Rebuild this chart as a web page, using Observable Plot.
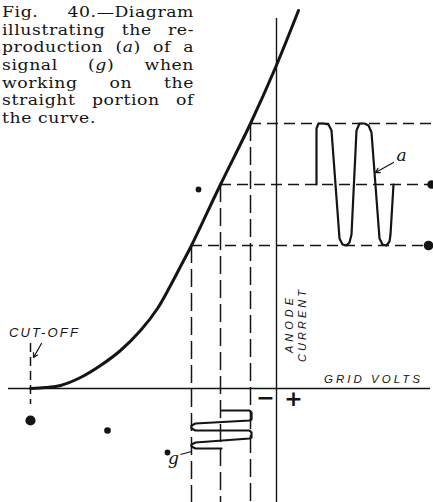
<!DOCTYPE html>
<html>
<head>
<meta charset="utf-8">
<script src="https://cdn.jsdelivr.net/npm/d3@7"></script>
<script src="https://cdn.jsdelivr.net/npm/@observablehq/plot@0.6"></script>
<style>
  html, body { margin: 0; padding: 0; background: #fff; }
  #wrap { position: relative; width: 433px; height: 502px; overflow: hidden; }
  #wrap svg { position: absolute; left: 0; top: 0; }
  #cap { position: absolute; left: 2px; top: 4px; width: 167px; transform: scaleX(1.15); transform-origin: 0 0;
         font-family: "DejaVu Serif", serif; font-size: 15px; letter-spacing: 0.5px; line-height: 17.65px; color: #141414; }
  #cap .j { text-align: justify; text-align-last: justify; }
  #cap .l { text-align: left; }
</style>
</head>
<body>
<div id="wrap"><div id="cap"></div></div>
<script>
// ---- caption ----
const captionLines = [
  "Fig. 40.—Diagram",
  "illustrating the re-",
  "production (<i>a</i>) of a",
  "signal (<i>g</i>) when",
  "working on the",
  "straight portion of",
  "the curve."
];

// ---- characteristic curve: grid volts vs anode current (diagram units) ----
const curveVolts   = [-24.6, -23.1, -21.6, -19.6, -17.6, -15.6, -13.6, -11.9, -10.6, -9.6, -8.5, -5.6, -2.6, -0.1, 2.2];
const curveCurrent = [0, 0.1, 0.3, 1.1, 2.3, 3.8, 5.8, 8.0, 10.3, 12.2, 14.3, 20.4, 26.5, 32.1, 37.8];

// working points (negative peak, bias, positive peak)
const workVolts   = [-8.5, -5.6, -2.6];
const workCurrent = [14.3, 20.4, 26.5];

// output waveform (a): time (to the right) vs anode current
const outTime    = [4.0, 4.0, 4.2, 4.7, 5.2, 5.5, 6.3, 6.6, 7.0, 7.3, 7.5, 8.0, 8.3, 8.8, 9.2, 9.5, 10.3, 10.6, 11.0, 11.3, 11.4, 11.7];
const outCurrent = [20.4, 26.0, 26.5, 26.5, 26.4, 25.8, 15.0, 14.4, 14.3, 14.6, 15.4, 25.8, 26.5, 26.5, 26.3, 25.6, 15.0, 14.4, 14.3, 14.7, 15.4, 20.4];

// input signal (g): grid volts vs time (downwards)
const sigVolts = [-5.5, -2.7, -2.5, -2.5, -2.7, -8.1, -8.5, -8.5, -8.1, -2.7, -2.5, -2.5, -2.7, -8.1, -8.5, -8.5, -8.1, -5.5];
const sigTime  = [-2.2, -2.2, -2.4, -3.1, -3.2, -3.5, -3.7, -4.0, -4.2, -4.2, -4.4, -4.9, -5.0, -5.4, -5.6, -5.8, -6.0, -6.0];

const cutOffVolts = -24.6;
const xDomain = [-27.6, 15.7];
const yDomain = [-11.4, 38.8];

const axisLabels = [
  {x: -23.2, y: 5.6, text: "CUT-OFF", rotate: 0, ls: 2.2, size: 13},
  {x: 9.7, y: 0.9, text: "GRID VOLTS", rotate: 0, ls: 3, size: 11.5},
  {x: 1.3, y: 6.5, text: "ANODE", rotate: -90, ls: 4, size: 11},
  {x: 2.6, y: 6.4, text: "CURRENT", rotate: -90, ls: 3, size: 11}
];
const signLabels = [
  {x: -1.1, y: -0.95, text: "−"},
  {x: 1.7, y: -1.0, text: "+"}
];
const waveLabels = [
  {x: 12.5, y: 23.3, text: "a"},
  {x: -10.3, y: -7.0, text: "g"}
];
const leaders = [
  {x1: 11.7, y1: 22.6, x2: 9.9, y2: 21.6},
  {x1: -23.5, y1: 4.5, x2: -24.3, y2: 3.1}
];
const gLeader = [{x1: -9.6, y1: -6.6, x2: -8.5, y2: -6.3}];
const specks = [
  {x: 15.5, y: 20.4, r: 2}, {x: 15.2, y: 14.3, r: 2.5},
  {x: -24.6, y: -3.2, r: 2.8}, {x: -7.8, y: 19.9, r: 0.9},
  {x: -16.9, y: -4.2, r: 1.2}, {x: -10.9, y: -6.4, r: 0.9}
];

const ink = "#141414";
const curveData = curveVolts.map((v, i) => ({v, i: curveCurrent[i]}));
const outData = outTime.map((t, i) => ({t, i: outCurrent[i]}));
const sigData = sigVolts.map((v, i) => ({v, t: sigTime[i]}));
const idx = d3.range(workVolts.length);

const chart = Plot.plot({
  width: 433,
  height: 502,
  margin: 0,
  x: {domain: xDomain, axis: null},
  y: {domain: yDomain, axis: null},
  style: {background: "transparent"},
  marks: [
    // axes
    Plot.ruleY([0], {x1: -26.8, x2: 15.4, stroke: ink, strokeWidth: 1.6}),
    Plot.ruleX([0], {y1: -11.4, y2: 37.0, stroke: ink, strokeWidth: 1.4}),
    // projection dashes
    Plot.ruleY(idx, {y: i => workCurrent[i], x1: i => workVolts[i], x2: xDomain[1], stroke: ink, strokeWidth: 1.5, strokeDasharray: "11,6"}),
    Plot.ruleX(idx, {x: i => workVolts[i], y1: i => workCurrent[i], y2: yDomain[0], stroke: ink, strokeWidth: 1.5, strokeDasharray: "18,6"}),
    // cut-off marker
    Plot.ruleX([cutOffVolts], {y1: 4.5, y2: -1.6, stroke: ink, strokeWidth: 1.5, strokeDasharray: "9,5"}),
    // characteristic curve
    Plot.line(curveData, {x: "v", y: "i", curve: "catmull-rom", stroke: ink, strokeWidth: 3}),
    // output waveform
    Plot.line(outData, {x: "t", y: "i", stroke: ink, strokeWidth: 2.2, strokeLinejoin: "round"}),
    // input signal
    Plot.line(sigData, {x: "v", y: "t", stroke: ink, strokeWidth: 2.2, strokeLinejoin: "round"}),
    // leaders
    Plot.arrow(leaders, {x1: "x1", y1: "y1", x2: "x2", y2: "y2", stroke: ink, strokeWidth: 1.2, headLength: 6}),
    Plot.link(gLeader, {x1: "x1", y1: "y1", x2: "x2", y2: "y2", stroke: ink, strokeWidth: 1.2}),
    Plot.dot(specks, {x: "x", y: "y", r: "r", fill: ink, stroke: null}),
    // labels
    Plot.text(axisLabels, {x: "x", y: "y", text: "text", rotate: "rotate", fontSize: d => d.size, fontFamily: "Liberation Sans, sans-serif", fontStyle: "italic", fill: ink}),
    Plot.text(signLabels, {x: "x", y: "y", text: "text", fontSize: 22, fontFamily: "DejaVu Sans, sans-serif", fontWeight: "bold", fill: ink}),
    Plot.text(waveLabels, {x: "x", y: "y", text: "text", fontSize: 17, fontFamily: "DejaVu Serif, serif", fontStyle: "italic", fill: ink})
  ]
});
document.getElementById("wrap").insertBefore(chart, document.getElementById("cap"));

// letter spacing for hand-lettered labels
const lsMap = new Map(axisLabels.map(d => [d.text, d.ls]));
d3.select(chart).selectAll("text").each(function() {
  const t = this.textContent;
  if (lsMap.has(t)) this.setAttribute("letter-spacing", lsMap.get(t));
});

// caption
const cap = document.getElementById("cap");
captionLines.forEach((line, k) => {
  const div = document.createElement("div");
  div.className = k === captionLines.length - 1 ? "l" : "j";
  div.innerHTML = line;
  cap.appendChild(div);
});
</script>
</body>
</html>
